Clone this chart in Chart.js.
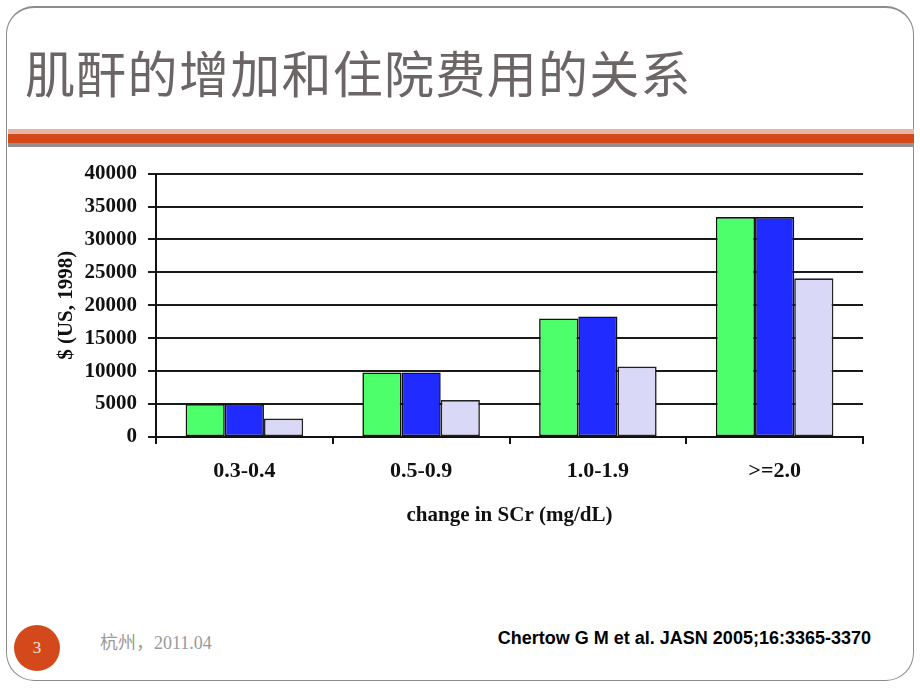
<!DOCTYPE html>
<html>
<head>
<meta charset="utf-8">
<script src="https://cdn.jsdelivr.net/npm/chart.js@4/dist/chart.umd.min.js"></script>
<style>
  html, body { margin:0; padding:0; background:#fff; }
  body { width:920px; height:690px; position:relative; overflow:hidden; }
  .frame { position:absolute; left:6px; top:6px; width:906px; height:672px; border:1.5px solid #8c8c8c; border-top-width:2px; border-radius:28px; }
  .title { position:absolute; left:25px; top:46px; font-family:"Noto Sans CJK SC", sans-serif; font-size:50px; line-height:50px; letter-spacing:1.3px; color:#6b6565; white-space:nowrap; }
  .band1 { position:absolute; left:8px; width:906px; top:129px; height:5px; background:#e6b3a8; }
  .band2 { position:absolute; left:8px; width:906px; top:134px; height:9px; background:#d24a1a; }
  .band3 { position:absolute; left:8px; width:906px; top:143px; height:4px; background:#958e8e; }
  .circle { position:absolute; left:14px; top:625px; width:46px; height:46px; border-radius:50%; background:#d4491b; color:#f7e0d6; font-family:"Liberation Serif", serif; font-size:17px; line-height:46px; text-align:center; }
  .place { position:absolute; left:100px; top:632px; font-family:"Liberation Serif", "Noto Sans CJK SC", serif; font-size:18px; line-height:22px; color:#9a9a9a; white-space:nowrap; }
  .cite { position:absolute; right:49px; top:627px; font-family:"Liberation Sans", Arial, sans-serif; font-weight:bold; font-size:18px; line-height:22px; color:#000; white-space:nowrap; }
  #wrap { position:absolute; left:40px; top:150px; width:840px; height:390px; }
</style>
</head>
<body>
<div class="frame"></div>
<div class="title">肌酐的增加和住院费用的关系</div>
<div class="band1"></div><div class="band2"></div><div class="band3"></div>
<div id="wrap"><canvas id="c" width="840" height="390"></canvas></div>
<div class="circle">3</div>
<div class="place">杭州，2011.04</div>
<div class="cite">Chertow G M et al. JASN 2005;16:3365-3370</div>
<script>
const categories = ["0.3-0.4", "0.5-0.9", "1.0-1.9", ">=2.0"];
const seriesA = [5000, 9800, 18000, 33400];
const seriesB = [5000, 9800, 18300, 33400];
const seriesC = [2800, 5600, 10700, 24100];
const xTitle = "change in SCr (mg/dL)";
const yTitle = "$ (US, 1998)";

const serif = "'Liberation Serif', 'Times New Roman', serif";

new Chart(document.getElementById('c'), {
  type: 'bar',
  data: {
    labels: categories,
    datasets: [
      { data: seriesA, backgroundColor: '#4dff6b', borderColor: '#111', borderWidth: 1.6, borderSkipped: false },
      { data: seriesB, backgroundColor: '#1f2bff', borderColor: '#111', borderWidth: 1.6, borderSkipped: false },
      { data: seriesC, backgroundColor: '#d9d9f7', borderColor: '#222', borderWidth: 1.6, borderSkipped: false }
    ]
  },
  options: {
    responsive: false,
    animation: false,
    categoryPercentage: 0.665,
    barPercentage: 1.0,
    layout: { padding: { top: 22, right: 17, left: 0, bottom: 0 } },
    plugins: { legend: { display: false }, tooltip: { enabled: false } },
    scales: {
      x: {
        grid: { drawOnChartArea: false, drawTicks: true, tickLength: 7, offset: true, color: '#111', lineWidth: 2 },
        border: { display: true, color: '#111', width: 2 },
        ticks: { color: '#111', padding: 14, font: { family: serif, size: 22, weight: 'bold' } },
        title: { display: true, text: xTitle, color: '#111', padding: { top: 0, bottom: 12 }, font: { family: serif, size: 21, weight: 'bold' } },
        afterFit: (s) => { s.height = 103; }
      },
      y: {
        min: 0, max: 40000,
        grid: { color: '#1a1a1a', lineWidth: 2, tickLength: 8 },
        border: { display: true, color: '#111', width: 2 },
        ticks: { stepSize: 5000, color: '#111', padding: 11, font: { family: serif, size: 21, weight: 'bold' }, callback: (v) => String(v) },
        title: { display: true, text: yTitle, color: '#111', padding: { top: 14, bottom: 0 }, font: { family: serif, size: 21, weight: 'bold' } },
        afterFit: (s) => { s.width = 116; }
      }
    }
  }
});
</script>
</body>
</html>
